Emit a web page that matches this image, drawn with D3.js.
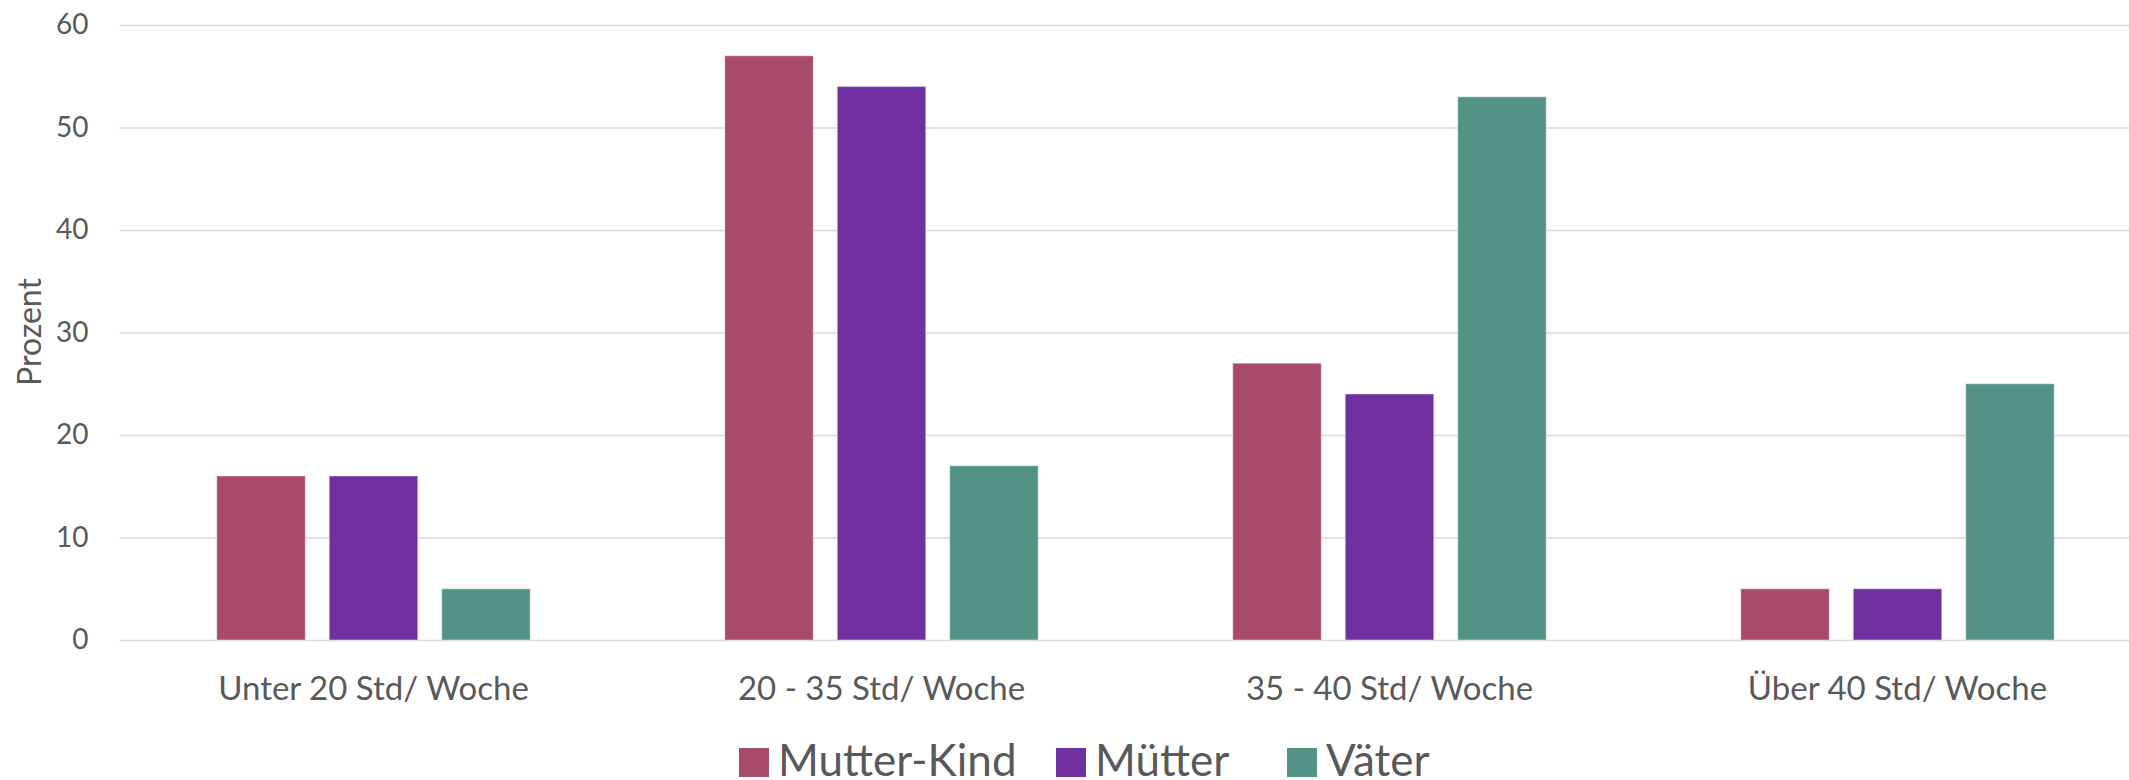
<!DOCTYPE html>
<html>
<head>
<meta charset="utf-8">
<script src="https://d3js.org/d3.v7.min.js"></script>
<style>
  body { margin: 0; background: #fff; }
  text { font-family: Lato, "Open Sans", sans-serif; fill: #595959; }
</style>
</head>
<body>
<script>
// data
var categories = ["Unter 20 Std/ Woche", "20 - 35 Std/ Woche", "35 - 40 Std/ Woche", "Über 40 Std/ Woche"];
var seriesNames = ["Mutter-Kind", "Mütter", "Väter"];
var mutterKind = [16, 57, 27, 5];
var muetter = [16, 54, 24, 5];
var vaeter = [5, 17, 53, 25];
var yTicks = [0, 10, 20, 30, 40, 50, 60];
var colors = ["#A84A6A", "#7030A0", "#529386"];

var W = 2129, H = 780;
var plotLeft = 119.5, plotRight = 2151.5, plotTop = 25, plotBottom = 640;

var svg = d3.select("body").append("svg")
    .attr("width", W)
    .attr("height", H);

var x0 = d3.scaleBand().domain(categories).range([plotLeft, plotRight])
    .paddingInner(0.383).paddingOuter(0.1915);
var x1 = d3.scaleBand().domain(seriesNames).range([0, x0.bandwidth()])
    .paddingInner(0.213);
var y = d3.scaleLinear().domain([0, 60]).range([plotBottom, plotTop]);

// gridlines + y labels
var yAxis = svg.append("g")
    .attr("transform", "translate(" + plotLeft + ",0)")
    .call(d3.axisLeft(y).tickValues(yTicks).tickSize(-(plotRight - plotLeft)).tickPadding(31));
yAxis.select(".domain").remove();
yAxis.selectAll("line").attr("stroke", "#D9D9D9").attr("stroke-width", 1.6);
yAxis.selectAll("text").attr("font-size", "28px").style("font-family", "Lato, sans-serif").attr("fill", "#595959");

// bars
var table = seriesNames.map(function(s, i) {
  var vals = [mutterKind, muetter, vaeter][i];
  return categories.map(function(c, j) { return {series: s, cat: c, value: vals[j], color: colors[i]}; });
});

svg.append("g").selectAll("g")
  .data(table)
  .enter().append("g")
  .selectAll("rect")
  .data(function(d) { return d; })
  .enter().append("rect")
    .attr("x", function(d) { return x0(d.cat) + x1(d.series); })
    .attr("y", function(d) { return y(d.value); })
    .attr("width", x1.bandwidth())
    .attr("height", function(d) { return y(0) - y(d.value); })
    .attr("fill", function(d) { return d.color; })
    .attr("stroke", "rgba(255,255,255,0.35)")
    .attr("stroke-width", 1.2);

// category labels
var xAxis = svg.append("g")
    .attr("transform", "translate(0," + plotBottom + ")")
    .call(d3.axisBottom(x0).tickSize(0).tickPadding(37));
xAxis.select(".domain").remove();
xAxis.selectAll("text").attr("font-size", "33px").style("font-family", "Lato, sans-serif").attr("fill", "#595959");

// y axis title
svg.append("text")
    .attr("transform", "translate(41,332) rotate(-90)")
    .attr("text-anchor", "middle")
    .attr("font-size", "32px")
    .text("Prozent");

// legend (square positions as in the original)
var legendX = [739, 1056, 1287];
seriesNames.forEach(function(s, i) {
  svg.append("rect")
      .attr("x", legendX[i]).attr("y", 748)
      .attr("width", 30).attr("height", 29)
      .attr("fill", colors[i]);
  svg.append("text")
      .attr("x", legendX[i] + 39).attr("y", 776)
      .attr("font-size", "44px")
      .text(s);
});
</script>
</body>
</html>
